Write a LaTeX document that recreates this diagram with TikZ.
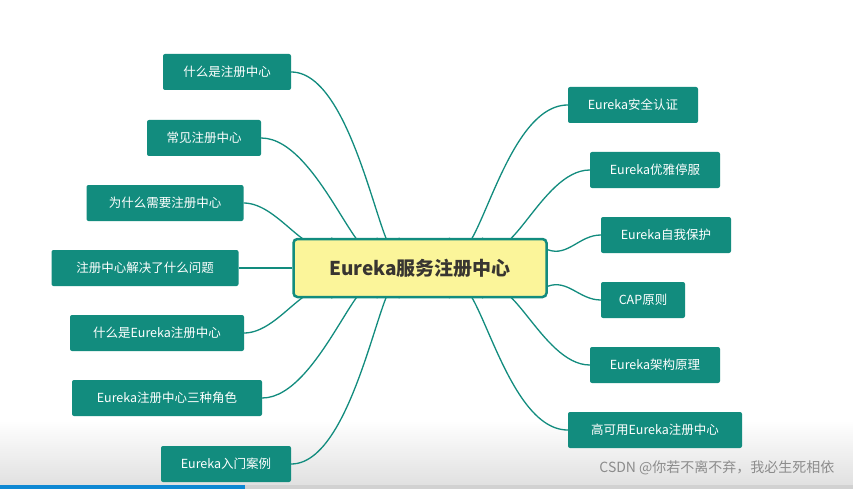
\documentclass[tikz,border=0pt]{standalone}
\usepackage{fontspec}
\setmainfont{Noto Sans CJK SC}
\usetikzlibrary{calc,backgrounds}
\definecolor{teal1}{HTML}{128C7E}
\definecolor{yel}{HTML}{FBF59A}
\tikzset{
 leaf/.style={fill=teal1,text=white,rounded corners=2pt,minimum height=36pt,inner xsep=10pt,font=\fontsize{12.5}{14}\selectfont},
 hub/.style={fill=yel,draw=teal1,line width=2.5pt,rounded corners=4pt,minimum width=253pt,minimum height=58pt,font=\fontsize{19}{22}\selectfont\bfseries,text=black!75!yellow!40!black},
 link/.style={draw=teal1,line width=1.3pt}
}
\begin{document}
\begin{tikzpicture}[x=1pt,y=-1pt]
\useasboundingbox (0,0) rectangle (853,489);
\node[hub] (c) at (420,268) {Eureka服务注册中心};
\node[leaf,minimum width=128pt] (l1) at (227,72) {什么是注册中心};
\node[leaf,minimum width=114pt] (l2) at (204,138) {常见注册中心};
\node[leaf,minimum width=157pt] (l3) at (165,203) {为什么需要注册中心};
\node[leaf,minimum width=187pt] (l4) at (145,268) {注册中心解决了什么问题};
\node[leaf,minimum width=174pt] (l5) at (157,333) {什么是Eureka注册中心};
\node[leaf,minimum width=190pt] (l6) at (167,398) {Eureka注册中心三种角色};
\node[leaf,minimum width=130pt] (l7) at (226,464) {Eureka入门案例};
\node[leaf,minimum width=130pt] (r1) at (633,105) {Eureka安全认证};
\node[leaf,minimum width=130pt] (r2) at (655,170) {Eureka优雅停服};
\node[leaf,minimum width=130pt] (r3) at (666,235) {Eureka自我保护};
\node[leaf,minimum width=84pt] (r4) at (643,300) {CAP原则};
\node[leaf,minimum width=130pt] (r5) at (655,365) {Eureka架构原理};
\node[leaf,minimum width=174pt] (r6) at (655,430) {高可用Eureka注册中心};
\coordinate (t1) at ($(c.north west)+(107,0)$);
\coordinate (t2) at ($(c.north west)+(85,0)$);
\coordinate (t3) at ($(c.north west)+(40,0)$);
\coordinate (b1) at ($(c.south west)+(40,0)$);
\coordinate (b2) at ($(c.south west)+(85,0)$);
\coordinate (b3) at ($(c.south west)+(107,0)$);
\coordinate (t4) at ($(c.north west)+(157,0)$);
\coordinate (t5) at ($(c.north west)+(190,0)$);
\coordinate (e1) at ($(c.north east)+(0,12)$);
\coordinate (e2) at ($(c.south east)+(0,-12)$);
\coordinate (b4) at ($(c.south west)+(190,0)$);
\coordinate (b5) at ($(c.south west)+(157,0)$);
\begin{scope}[on background layer]
\fill[white] (0,0) rectangle (853,489);
\shade[top color=white,bottom color=black!12] (0,420) rectangle (853,485);
\fill[black!18] (0,485) rectangle (853,489);
\fill[cyan!70!blue] (0,485) rectangle (245,489);
\draw[link] (t1) to[out=-100,in=0,looseness=0.9] (l1.east);
\draw[link] (t2) to[out=-100,in=0] (l2.east);
\draw[link] (t3) to[out=-125,in=0] (l3.east);
\draw[link] (c.west) -- (l4.east);
\draw[link] (b1) to[out=125,in=0] (l5.east);
\draw[link] (b2) to[out=100,in=0] (l6.east);
\draw[link] (b3) to[out=100,in=0,looseness=0.9] (l7.east);
\draw[link] (t4) to[out=-70,in=180] (r1.west);
\draw[link] (t5) to[out=-60,in=180] (r2.west);
\draw[link] (e1) to[out=-20,in=180] (r3.west);
\draw[link] (e2) to[out=20,in=180] (r4.west);
\draw[link] (b4) to[out=60,in=180] (r5.west);
\draw[link] (b5) to[out=70,in=180] (r6.west);
\end{scope}
\node[text=black!45,font=\fontsize{14}{16}\selectfont,anchor=east] (w) at (838,468) {CSDN @你若不离不弃，我必生死相依};
\end{tikzpicture}
\end{document}
